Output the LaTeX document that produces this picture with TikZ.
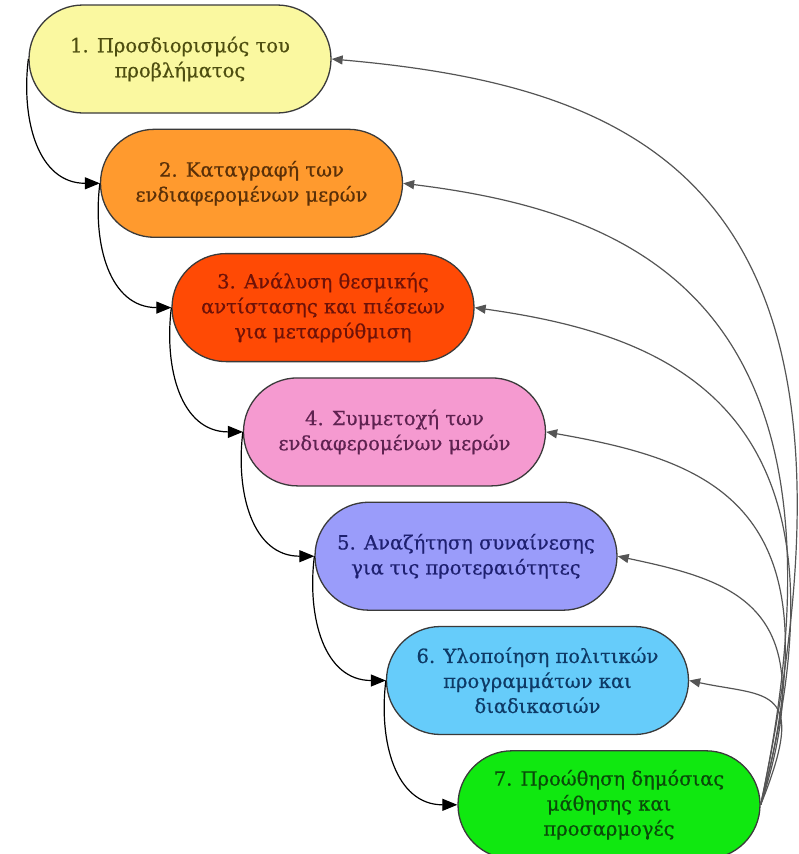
\documentclass[tikz,border=0pt]{standalone}
\usepackage{fontspec}
\setmainfont{DejaVu Serif}
\newfontfamily\stagefont[FakeBold=0.6]{DejaVu Serif}
\usepackage{tikz}
\usetikzlibrary{arrows.meta, positioning}
\usepackage{xcolor}
\definecolor{EdgeGray}{HTML}{3A3A3A}
\definecolor{LoopGray}{HTML}{555555}
\definecolor{YellowFill}{HTML}{FAF8A0}
\definecolor{YellowText}{HTML}{4E4E10}
\definecolor{OrangeFill}{HTML}{FF9A2E}
\definecolor{OrangeText}{HTML}{5A3008}
\definecolor{RedFill}{HTML}{FF4A05}
\definecolor{RedText}{HTML}{6E1208}
\definecolor{PinkFill}{HTML}{F59AD0}
\definecolor{PinkText}{HTML}{5E2250}
\definecolor{VioletFill}{HTML}{9A9CFA}
\definecolor{VioletText}{HTML}{1E2070}
\definecolor{SkyFill}{HTML}{66CCFA}
\definecolor{SkyText}{HTML}{0E3A66}
\definecolor{GreenFill}{HTML}{10E810}
\definecolor{GreenText}{HTML}{0A4A0A}
\tikzset{%
  stage_block/.style={%
    rectangle,%
    rounded corners=54pt,%
    minimum width=302pt,%
    minimum height=108pt,%
    draw=EdgeGray,%
    line width=1.3pt,%
    font={\stagefont\fontsize{19.5}{25}\selectfont},%
    align=center%
  },
  smooth_path/.style={%
    color=black,%
    line width=1.2pt,%
    line join=round%
  },
  return_path/.style={%
    color=LoopGray,%
    line width=1.2pt,%
    line join=round%
  },
  arrow/.style={-{Triangle[length=15pt, width=12pt]}},
  return_arrow/.style={-{Triangle[length=11pt, width=9pt]}},
}
\begin{document}
\begin{tikzpicture}[x=1pt, y=1pt]

    \useasboundingbox (0, 0) rectangle (798, -854);

    \node [stage_block, fill=YellowFill, text=YellowText] (Stage1) at (180, -59)
      {1. Προσδιορισμός του\\προβλήματος};
    \node [stage_block, fill=OrangeFill, text=OrangeText, below = 15 of Stage1, xshift=71.5] (Stage2)
      {2. Καταγραφή των\\ενδιαφερομένων μερών};
    \node [stage_block, fill=RedFill, text=RedText, below = 15 of Stage2, xshift=71.5] (Stage3)
      {3. Ανάλυση θεσμικής\\αντίστασης και πιέσεων\\για μεταρρύθμιση};
    \node [stage_block, fill=PinkFill, text=PinkText, below = 15 of Stage3, xshift=71.5] (Stage4)
      {4. Συμμετοχή των\\ενδιαφερομένων μερών};
    \node [stage_block, fill=VioletFill, text=VioletText, below = 15 of Stage4, xshift=71.5] (Stage5)
      {5. Αναζήτηση συναίνεσης\\για τις προτεραιότητες};
    \node [stage_block, fill=SkyFill, text=SkyText, below = 15 of Stage5, xshift=71.5] (Stage6)
      {6. Υλοποίηση πολιτικών\\προγραμμάτων και\\διαδικασιών};
    \node [stage_block, fill=GreenFill, text=GreenText, below = 15 of Stage6, xshift=71.5] (Stage7)
      {7. Προώθηση δημόσιας\\μάθησης και\\προσαρμογές};

    \draw [arrow, smooth_path]
      (Stage1.west) to [out=-97, in=180, looseness=1.1] (Stage2.west);
    \draw [arrow, smooth_path]
      (Stage2.west) to [out=-97, in=180, looseness=1.1] (Stage3.west);
    \draw [arrow, smooth_path]
      (Stage3.west) to [out=-97, in=180, looseness=1.1] (Stage4.west);
    \draw [arrow, smooth_path]
      (Stage4.west) to [out=-97, in=180, looseness=1.1] (Stage5.west);
    \draw [arrow, smooth_path]
      (Stage5.west) to [out=-97, in=180, looseness=1.1] (Stage6.west);
    \draw [arrow, smooth_path]
      (Stage6.west) to [out=-97, in=180, looseness=1.1] (Stage7.west);

    \draw [return_arrow, return_path]
      (Stage7.east) to [out=78, in=-5, out distance=620pt, in distance=330pt] (Stage1.east);
    \draw [return_arrow, return_path]
      (Stage7.east) to [out=78, in=-7, out distance=510pt, in distance=240pt] (Stage2.east);
    \draw [return_arrow, return_path]
      (Stage7.east) to [out=75, in=-8, out distance=410pt, in distance=200pt] (Stage3.east);
    \draw [return_arrow, return_path]
      (Stage7.east) to [out=75, in=-10, out distance=310pt, in distance=170pt] (Stage4.east);
    \draw [return_arrow, return_path]
      (Stage7.east) to [out=72, in=-12, out distance=210pt, in distance=120pt] (Stage5.east);
    \draw [return_arrow, return_path]
      (Stage7.east) to [out=68, in=-12, out distance=130pt, in distance=80pt] (Stage6.east);
  \end{tikzpicture}
\end{document}
